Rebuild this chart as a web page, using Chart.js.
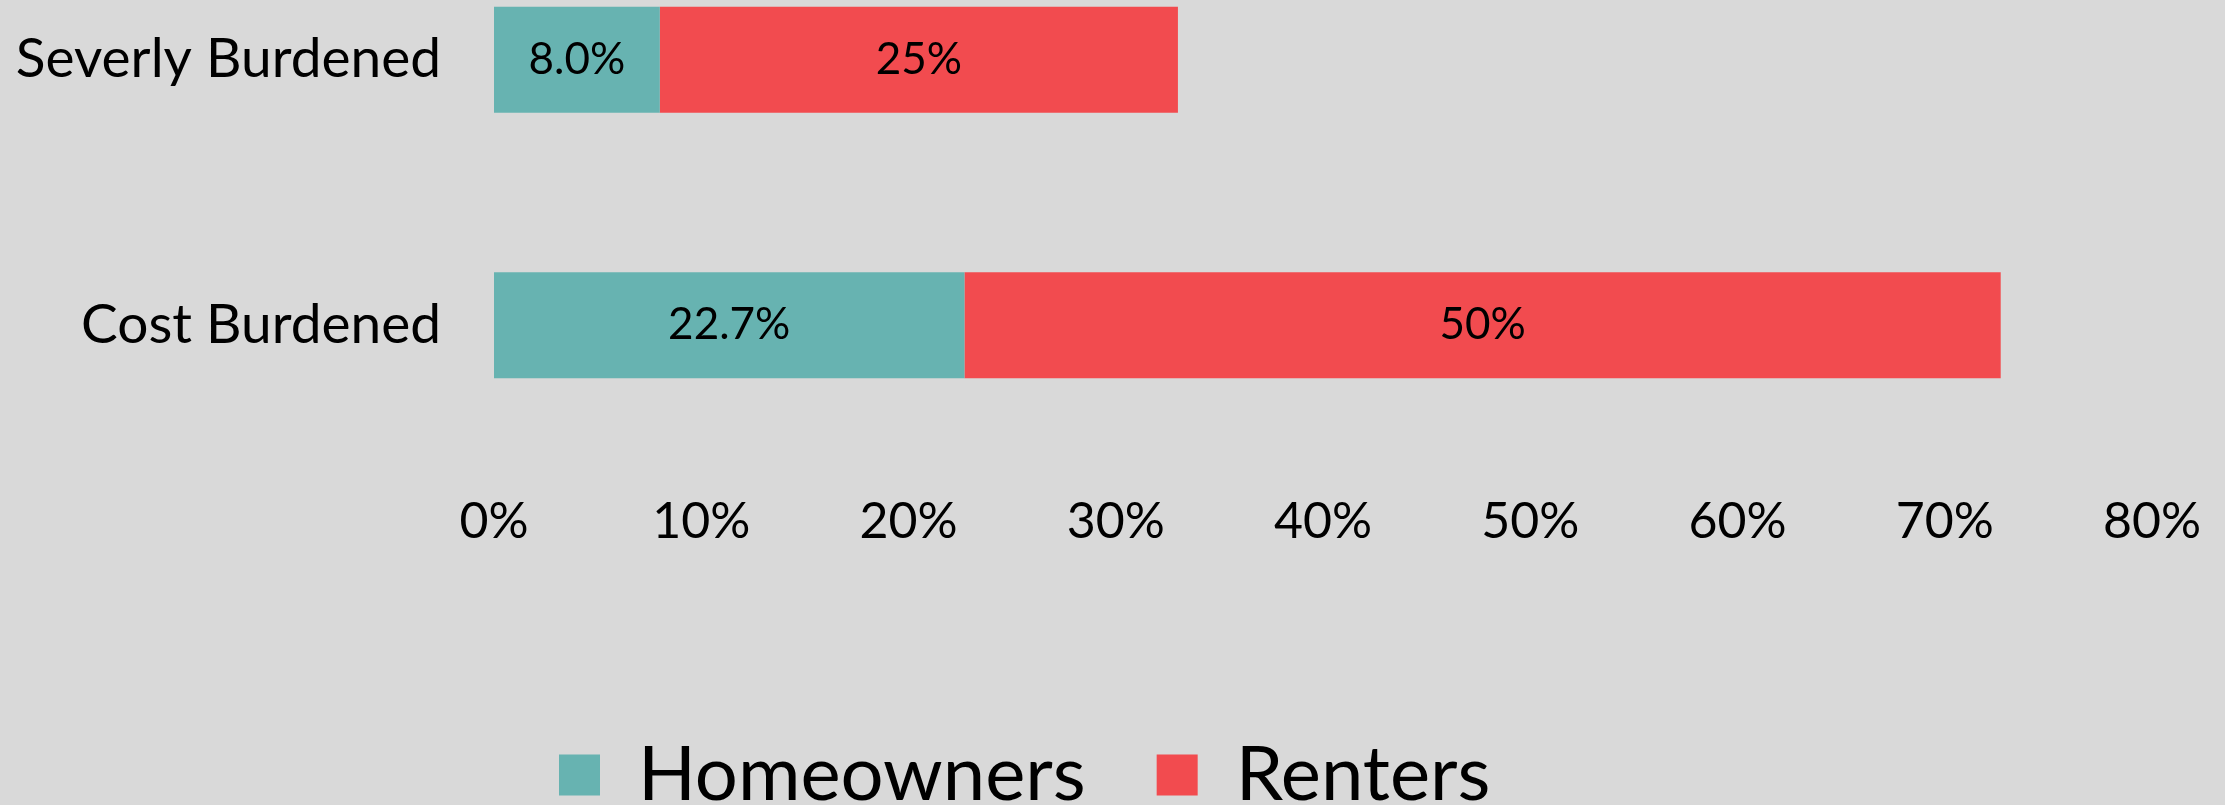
<!DOCTYPE html>
<html>
<head>
<meta charset="utf-8">
<script src="https://cdn.jsdelivr.net/npm/chart.js@4.4.1/dist/chart.umd.min.js"></script>
<style>
  html, body { margin: 0; padding: 0; background: #d9d9d9; overflow: hidden; width: 2225px; height: 805px; }
  #wrap { position: absolute; left: 0; top: -100px; width: 2225px; height: 923px; }
</style>
</head>
<body>
<div id="wrap"><canvas id="chart" width="2225" height="923"></canvas></div>
<script>
// datos del gráfico
const categories = ["Severly Burdened", "Cost Burdened"];
const homeowners = [8.0, 22.7];
const renters = [25.0, 50.0];
const xTickValues = [0, 10, 20, 30, 40, 50, 60, 70, 80];

const FONT = "Lato, 'Open Sans', sans-serif";
const TEAL = "#67b3b1";
const RED = "#f24b4f";

// etiquetas dentro de cada barra
const barLabels = {
    id: "barLabels",
    afterDatasetsDraw(chart) {
        const ctx = chart.ctx;
        ctx.save();
        ctx.font = "44px " + FONT;
        ctx.fillStyle = "#000";
        ctx.textAlign = "center";
        ctx.textBaseline = "middle";
        chart.data.datasets.forEach((ds, i) => {
            chart.getDatasetMeta(i).data.forEach((bar, j) => {
                const text = ds.data[j].toFixed(ds.decimals) + "%";
                ctx.fillText(text, (bar.x + bar.base) / 2, bar.y);
            });
        });
        ctx.restore();
    }
};

// mover la leyenda a la izquierda como en el original
const legendShift = {
    id: "legendShift",
    afterLayout(chart) {
        const lg = chart.legend;
        lg.left = 559 - lg.options.labels.padding;
    }
};

new Chart(document.getElementById("chart"), {
    type: "bar",
    data: {
        labels: categories,
        datasets: [
            { label: "Homeowners", data: homeowners, backgroundColor: TEAL, decimals: 1 },
            { label: "Renters", data: renters, backgroundColor: RED, decimals: 0 }
        ]
    },
    options: {
        indexAxis: "y",
        responsive: false,
        animation: false,
        devicePixelRatio: 1,
        barPercentage: 0.4,
        categoryPercentage: 1,
        layout: { padding: { top: 27, right: 73, left: 0, bottom: 0 } },
        scales: {
            x: {
                stacked: true,
                min: xTickValues[0],
                max: xTickValues[xTickValues.length - 1],
                grid: { display: false, drawTicks: false },
                border: { display: false },
                afterFit(scale) {
                    scale.height = 208;
                    scale.paddingLeft = 0;
                    scale.paddingRight = 0;
                },
                ticks: {
                    stepSize: xTickValues[1] - xTickValues[0],
                    padding: 34,
                    color: "#000",
                    font: { family: FONT, size: 50 },
                    callback: v => v + "%"
                }
            },
            y: {
                stacked: true,
                grid: { display: false, drawTicks: false },
                border: { display: false },
                afterFit(scale) {
                    scale.width = 494;
                    scale.paddingTop = 0;
                    scale.paddingBottom = 0;
                },
                ticks: {
                    padding: 53,
                    color: "#000",
                    font: { family: FONT, size: 55 }
                }
            }
        },
        plugins: {
            tooltip: { enabled: false },
            legend: {
                position: "bottom",
                align: "start",
                labels: {
                    boxWidth: 41,
                    boxHeight: 41,
                    padding: 71,
                    color: "#000",
                    font: { family: FONT, size: 76 }
                }
            }
        }
    },
    plugins: [barLabels, legendShift]
});
</script>
</body>
</html>
